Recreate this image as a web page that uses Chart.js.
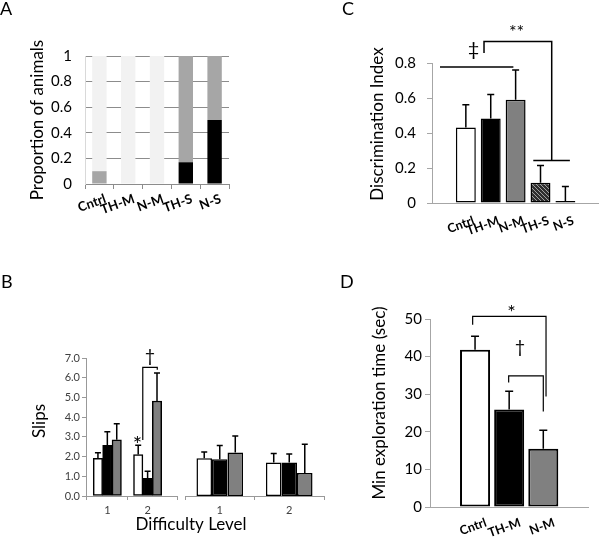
<!DOCTYPE html>
<html><head><meta charset="utf-8">
<script src="https://cdn.jsdelivr.net/npm/chart.js@4.4.1/dist/chart.umd.min.js"></script>
<style>
html,body{margin:0;padding:0;background:#fff;width:600px;height:538px;overflow:hidden}
canvas{position:absolute;left:0;top:0}
</style></head><body>
<canvas id="cA" width="600" height="538"></canvas>
<canvas id="cB1" width="600" height="538"></canvas>
<canvas id="cB2" width="600" height="538"></canvas>
<canvas id="cC" width="600" height="538"></canvas>
<canvas id="cD" width="600" height="538"></canvas>
<script>
// ---------------- DATA ----------------
// Panel A: proportion of animals (stacked)
const aCategories = ['Cntrl', 'TH-M', 'N-M', 'TH-S', 'N-S'];
const aBlack = [0, 0, 0, 0.17, 0.5];
const aGray = [0.1, 0, 0, 0.83, 0.5];
const aLight = [0.9, 1, 1, 0, 0];
const aYTicks = [0, 0.2, 0.4, 0.6, 0.8, 1];
const aYTickLabels = ['0', '0.2', '0.4', '0.6', '0.8', '1'];

// Panel B: slips by difficulty level (two groups)
const bLevels = ['1', '2'];
const bYTicks = [0, 1, 2, 3, 4, 5, 6, 7];
const bYTickLabels = ['0.0', '1.0', '2.0', '3.0', '4.0', '5.0', '6.0', '7.0'];
const bLeftCntrl = [1.91, 2.10];
const bLeftCntrlErr = [0.28, 0.47];
const bLeftTHM = [2.57, 0.89];
const bLeftTHMErr = [0.69, 0.37];
const bLeftNM = [2.85, 4.82];
const bLeftNMErr = [0.82, 1.42];
const bRightCntrl = [1.92, 1.70];
const bRightCntrlErr = [0.31, 0.46];
const bRightTHM = [1.87, 1.70];
const bRightTHMErr = [0.69, 0.43];
const bRightNM = [2.21, 1.17];
const bRightNMErr = [0.83, 1.45];

// Panel C: discrimination index
const cCategories = ['Cntrl', 'TH-M', 'N-M', 'TH-S', 'N-S'];
const cIndex = [0.432, 0.483, 0.59, 0.116, 0.009];
const cErr = [0.13, 0.137, 0.17, 0.099, 0.086];
const cYTicks = [0, 0.2, 0.4, 0.6, 0.8];
const cYTickLabels = ['0', '0.2', '0.4', '0.6', '0.8'];

// Panel D: min exploration time
const dCategories = ['Cntrl', 'TH-M', 'N-M'];
const dTime = [41.8, 25.9, 15.5];
const dErr = [3.6, 4.9, 4.9];
const dYTicks = [0, 10, 20, 30, 40, 50];
const dYTickLabels = ['0', '10', '20', '30', '40', '50'];

// ---------------- SETUP ----------------
const FONT = 'Lato, "Open Sans", sans-serif';
Chart.defaults.font.family = FONT;
Chart.defaults.color = '#000';
Chart.defaults.animation = false;
Chart.defaults.responsive = false;
Chart.defaults.plugins.legend.display = false;
Chart.defaults.plugins.tooltip.enabled = false;
Chart.defaults.events = [];

const W = 600, H = 538;
function layoutFor(a, yW, xH) {
  return { autoPadding: false, padding: { left: a.L - yW, top: a.T, right: W - a.R, bottom: H - a.B - xH } };
}
const fixW = w => s => { s.width = w; };
const fixH = h => s => { s.height = h; };
const setTicks = vals => s => { s.ticks = vals.map(v => ({ value: v })); };
const labelFrom = (vals, labels) => v => labels[vals.indexOf(v)];
const pts = (arr) => arr.map((v, i) => ({ x: i + 1, y: v }));

function errPlugin(cap, lw) {
  return {
    id: 'errbars',
    afterDatasetsDraw(chart) {
      const ctx = chart.ctx, ys = chart.scales.y;
      chart.data.datasets.forEach((ds, i) => {
        if (!ds.errors) return;
        const meta = chart.getDatasetMeta(i);
        meta.data.forEach((el, j) => {
          const d = ds.data[j];
          const v = (typeof d === 'object') ? d.y : d;
          const top = ys.getPixelForValue(v + ds.errors[j]);
          const base = ys.getPixelForValue(v);
          ctx.save();
          ctx.strokeStyle = '#000';
          ctx.lineWidth = lw;
          ctx.beginPath();
          ctx.moveTo(el.x, base);
          ctx.lineTo(el.x, top);
          ctx.moveTo(el.x - cap, top);
          ctx.lineTo(el.x + cap, top);
          ctx.stroke();
          ctx.restore();
        });
      });
    }
  };
}

// paths & marks in data coords; texts in page coords
function overlay(cfg) {
  return {
    id: 'overlay',
    afterDraw(chart) {
      const ctx = chart.ctx, xs = chart.scales.x, ys = chart.scales.y;
      ctx.save();
      (cfg.paths || []).forEach(p => {
        ctx.strokeStyle = p.color || '#000';
        ctx.lineWidth = p.w || 1.5;
        ctx.beginPath();
        p.pts.forEach((q, k) => {
          const X = xs.getPixelForValue(q[0]), Y = ys.getPixelForValue(q[1]);
          if (k === 0) ctx.moveTo(X, Y); else ctx.lineTo(X, Y);
        });
        ctx.stroke();
      });
      (cfg.marks || []).forEach(m => {
        ctx.fillStyle = '#000';
        ctx.font = m.font;
        ctx.textAlign = 'center';
        ctx.textBaseline = 'middle';
        ctx.fillText(m.t, xs.getPixelForValue(m.x), ys.getPixelForValue(m.y));
      });
      (cfg.texts || []).forEach(t => {
        ctx.save();
        ctx.fillStyle = t.color || '#000';
        ctx.font = t.font;
        ctx.textAlign = t.align || 'center';
        ctx.textBaseline = t.base || 'middle';
        ctx.translate(t.x, t.y);
        if (t.rot) ctx.rotate(t.rot);
        ctx.fillText(t.t, 0, 0);
        ctx.restore();
      });
      ctx.restore();
    }
  };
}

// ---------------- PANEL A ----------------
const aArea = { L: 85, T: 56, R: 229, B: 184 }, aXH = 50;
new Chart(document.getElementById('cA'), {
  type: 'bar',
  data: {
    labels: aCategories,
    datasets: [
      { data: aBlack, backgroundColor: '#000000' },
      { data: aGray, backgroundColor: '#a6a6a6' },
      { data: aLight, backgroundColor: '#f2f2f2' }
    ]
  },
  options: {
    layout: layoutFor(aArea, aArea.L, aXH),
    datasets: { bar: { categoryPercentage: 1, barPercentage: 0.5, borderWidth: 0 } },
    scales: {
      x: {
        stacked: true, afterFit: fixH(aXH),
        grid: { offset: true, drawOnChartArea: false, tickLength: 5, color: '#8c8c8c' },
        border: { color: '#8c8c8c' },
        ticks: { font: { size: 13, weight: 'bold' }, maxRotation: 20, minRotation: 20, padding: 2, labelOffset: 6, autoSkip: false, color: '#000' }
      },
      y: {
        stacked: true, min: 0, max: 1, afterFit: fixW(aArea.L), afterBuildTicks: setTicks(aYTicks),
        grid: { color: '#8c8c8c', drawTicks: false },
        border: { color: '#d9d9d9' },
        ticks: { font: { size: 15 }, padding: 13, color: '#000', callback: labelFrom(aYTicks, aYTickLabels) }
      }
    }
  },
  plugins: [overlay({
    texts: [
      { t: 'A', x: 0, y: 15, font: '18px ' + FONT, align: 'left', base: 'alphabetic' },
      { t: 'B', x: 1, y: 288, font: '18px ' + FONT, align: 'left', base: 'alphabetic' },
      { t: 'C', x: 342, y: 15, font: '18px ' + FONT, align: 'left', base: 'alphabetic' },
      { t: 'D', x: 340, y: 288, font: '18px ' + FONT, align: 'left', base: 'alphabetic' },
      { t: 'Proportion of animals', x: 38, y: 120, rot: -Math.PI / 2, font: '17px ' + FONT }
    ]
  })]
});

// ---------------- PANEL B (left) ----------------
const bArea1 = { L: 86, T: 358, R: 177, B: 496 }, bXH = 30;
const b1Min = 0.47, b1Max = 2.73;
new Chart(document.getElementById('cB1'), {
  type: 'bar',
  data: {
    datasets: [
      { data: pts(bLeftCntrl), errors: bLeftCntrlErr, backgroundColor: '#ffffff' },
      { data: pts(bLeftTHM), errors: bLeftTHMErr, backgroundColor: '#000000' },
      { data: pts(bLeftNM), errors: bLeftNMErr, backgroundColor: '#808080' }
    ]
  },
  options: {
    layout: layoutFor(bArea1, bArea1.L, bXH),
    datasets: { bar: { barThickness: 9.4, borderWidth: 1.5, borderColor: '#000', borderSkipped: false } },
    scales: {
      x: {
        type: 'linear', offset: false, min: b1Min, max: b1Max, afterFit: fixH(bXH),
        afterBuildTicks: setTicks([b1Min, 1, 1.5, 2, b1Max]),
        grid: { offset: false, drawOnChartArea: false, tickLength: 4, color: c => Number.isInteger(c.tick && c.tick.value) ? 'rgba(0,0,0,0)' : '#999' },
        border: { color: '#999' },
        ticks: { font: { size: 11 }, color: '#404040', padding: 4, autoSkip: false, maxRotation: 0,
          callback: v => Number.isInteger(v) ? bLevels[v - 1] : '' }
      },
      y: {
        min: 0, max: 7, afterFit: fixW(bArea1.L), afterBuildTicks: setTicks(bYTicks),
        grid: { drawOnChartArea: false, tickLength: 4, color: '#999' },
        border: { color: '#999' },
        ticks: { font: { size: 11 }, color: '#404040', padding: 2, callback: labelFrom(bYTicks, bYTickLabels) }
      }
    }
  },
  plugins: [errPlugin(3, 1.5), overlay({
    paths: [ { pts: [[1.88, 2.84], [1.88, 6.52], [2.24, 6.52], [2.24, 6.40]], w: 1.2 } ],
    marks: [
      { t: '*', x: 1.75, y: 2.6, font: '22px ' + FONT },
      { t: '†', x: 2.06, y: 7.1, font: '18px ' + FONT }
    ],
    texts: [
      { t: 'Slips', x: 40, y: 421, rot: -Math.PI / 2, font: '17px ' + FONT },
      { t: 'Difficulty Level', x: 191, y: 525, font: '17px ' + FONT }
    ]
  })]
});

// ---------------- PANEL B (right) ----------------
const bArea2 = { L: 185, T: 358, R: 324, B: 496 };
new Chart(document.getElementById('cB2'), {
  type: 'bar',
  data: {
    labels: bLevels,
    datasets: [
      { data: bRightCntrl, errors: bRightCntrlErr, backgroundColor: '#ffffff' },
      { data: bRightTHM, errors: bRightTHMErr, backgroundColor: '#000000' },
      { data: bRightNM, errors: bRightNMErr, backgroundColor: '#808080' }
    ]
  },
  options: {
    layout: layoutFor(bArea2, 0, bXH),
    datasets: { bar: { categoryPercentage: 0.67, barPercentage: 1, borderWidth: 1.5, borderColor: '#000', borderSkipped: false } },
    scales: {
      x: {
        afterFit: fixH(bXH),
        grid: { offset: true, drawOnChartArea: false, tickLength: 4, color: '#999' },
        border: { color: '#999' },
        ticks: { font: { size: 11 }, color: '#404040', padding: 4, maxRotation: 0 }
      },
      y: { display: false, min: 0, max: 7 }
    }
  },
  plugins: [errPlugin(3, 1.5)]
});

// ---------------- PANEL C ----------------
const cArea = { L: 432, T: 63, R: 598, B: 203 }, cXH = 50;
const cMin = -0.36, cMax = 6.31;
const hatchCanvas = document.createElement('canvas');
hatchCanvas.width = 4; hatchCanvas.height = 4;
(function () {
  const g = hatchCanvas.getContext('2d');
  g.fillStyle = '#2e2e2e'; g.fillRect(0, 0, 4, 4);
  g.strokeStyle = '#a0a0a0'; g.lineWidth = 1;
  g.beginPath(); g.moveTo(0, 0); g.lineTo(4, 4); g.stroke();
})();
const cCtx = document.getElementById('cC').getContext('2d');
const hatch = cCtx.createPattern(hatchCanvas, 'repeat');
new Chart(cCtx, {
  type: 'bar',
  data: {
    datasets: [{
      data: pts(cIndex), errors: cErr,
      backgroundColor: ['#ffffff', '#000000', '#808080', hatch, '#ffffff']
    }]
  },
  options: {
    layout: layoutFor(cArea, cArea.L, cXH),
    datasets: { bar: { categoryPercentage: 1, barPercentage: 0.8, borderWidth: 1.5, borderColor: '#000', borderSkipped: false, minBarLength: 2 } },
    scales: {
      x: {
        type: 'linear', offset: false, min: cMin, max: cMax, afterFit: fixH(cXH),
        afterBuildTicks: setTicks([1, 2, 3, 4, 5]),
        grid: { display: false, drawTicks: false },
        border: { color: '#a6a6a6' },
        ticks: { font: { size: 12.5, weight: 'bold' }, maxRotation: 20, minRotation: 20, padding: 10, labelOffset: 8, autoSkip: false,
          callback: v => cCategories[v - 1] }
      },
      y: {
        min: 0, max: 0.8, afterFit: fixW(cArea.L), afterBuildTicks: setTicks(cYTicks),
        grid: { drawOnChartArea: false, tickLength: 5, color: '#a6a6a6' },
        border: { color: '#a6a6a6' },
        ticks: { font: { size: 15 }, padding: 11, color: '#000', callback: labelFrom(cYTicks, cYTickLabels) }
      }
    }
  },
  plugins: [errPlugin(3.5, 1.5), overlay({
    paths: [
      { pts: [[-0.04, 0.777], [2.91, 0.777]] },
      { pts: [[1.73, 0.857], [1.73, 0.923], [4.45, 0.923], [4.45, 0.243]] },
      { pts: [[3.71, 0.243], [5.18, 0.243]] }
    ],
    marks: [
      { t: '‡', x: 1.31, y: 0.875, font: '20px ' + FONT },
      { t: '**', x: 3.04, y: 0.975, font: '18px ' + FONT }
    ],
    texts: [
      { t: 'Discrimination Index', x: 378, y: 124, rot: -Math.PI / 2, font: '17px ' + FONT }
    ]
  })]
});

// ---------------- PANEL D ----------------
const dArea = { L: 430, T: 319, R: 588, B: 507 }, dXH = 31;
const dMin = -0.32, dMax = 4.31;
new Chart(document.getElementById('cD'), {
  type: 'bar',
  data: {
    datasets: [{
      data: pts(dTime), errors: dErr,
      backgroundColor: ['#ffffff', '#000000', '#808080']
    }]
  },
  options: {
    layout: layoutFor(dArea, dArea.L, dXH),
    datasets: { bar: { categoryPercentage: 1, barPercentage: 0.88, borderWidth: 2, borderColor: '#000', borderSkipped: false } },
    scales: {
      x: {
        type: 'linear', offset: false, min: dMin, max: dMax, afterFit: fixH(dXH),
        afterBuildTicks: setTicks([1, 2, 3]),
        grid: { display: false, drawTicks: false },
        border: { color: '#a6a6a6' },
        ticks: { font: { size: 12.5, weight: 'bold' }, maxRotation: 20, minRotation: 20, padding: 8, labelOffset: 11, autoSkip: false,
          callback: v => dCategories[v - 1] }
      },
      y: {
        min: 0, max: 50, afterFit: fixW(dArea.L), afterBuildTicks: setTicks(dYTicks),
        grid: { drawOnChartArea: false, tickLength: 5, color: '#a6a6a6' },
        border: { color: '#a6a6a6' },
        ticks: { font: { size: 15 }, padding: 3, color: '#000', callback: labelFrom(dYTicks, dYTickLabels) }
      }
    }
  },
  plugins: [errPlugin(4, 1.5), overlay({
    paths: [
      { pts: [[0.93, 48.5], [0.93, 50.7], [3.08, 50.7], [3.08, 29.4]], w: 1.2 },
      { pts: [[1.985, 33.1], [1.985, 34.9], [3.0, 34.9], [3.0, 25.4]], w: 1.2 }
    ],
    marks: [
      { t: '*', x: 2.07, y: 51.6, font: '20px ' + FONT },
      { t: '†', x: 2.32, y: 42.4, font: '18px ' + FONT }
    ],
    texts: [
      { t: 'Min exploration time (sec)', x: 380, y: 403, rot: -Math.PI / 2, font: '17px ' + FONT }
    ]
  })]
});
</script>
</body></html>
